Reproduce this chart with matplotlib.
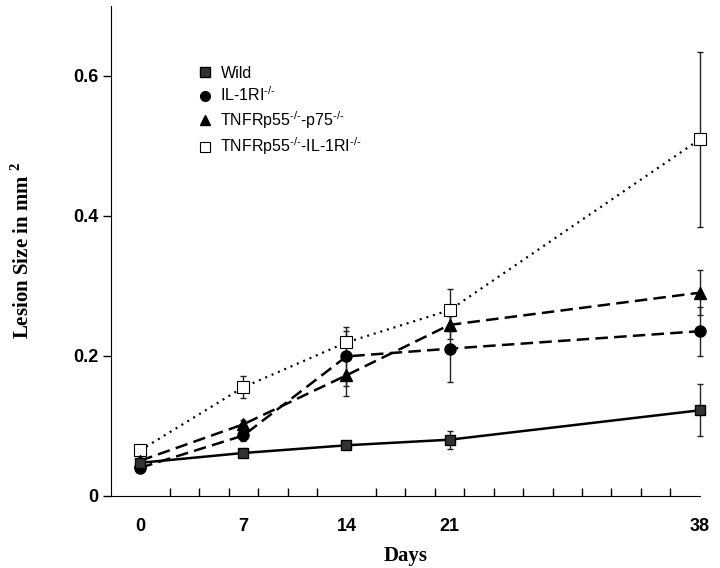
import matplotlib
matplotlib.use('Agg')
import matplotlib.pyplot as plt
from matplotlib.lines import Line2D

plt.rcParams['font.family'] = 'Liberation Sans'
plt.rcParams['mathtext.fontset'] = 'custom'
plt.rcParams['mathtext.rm'] = 'Liberation Sans'
plt.rcParams['mathtext.bf'] = 'Liberation Serif:bold'

days = [0, 7, 14, 21, 38]
tick_days = [0, 7, 14, 21, 38]

wild = [0.047, 0.061, 0.072, 0.080, 0.122]
wild_err = [0.005, 0.006, 0.005, 0.013, 0.037]

il1 = [0.040, 0.086, 0.199, 0.210, 0.235]
il1_err = [0.004, 0.008, 0.042, 0.047, 0.035]

tnf = [0.050, 0.102, 0.172, 0.244, 0.290]
tnf_err = [0.004, 0.006, 0.030, 0.020, 0.032]

dko = [0.065, 0.155, 0.219, 0.265, 0.509]
dko_err = [0.005, 0.016, 0.016, 0.030, 0.125]

labels = ['Wild', r'IL-1RI$^{\text{-/-}}$', r'TNFRp55$^{\text{-/-}}$-p75$^{\text{-/-}}$',
          r'TNFRp55$^{\text{-/-}}$-IL-1RI$^{\text{-/-}}$']

fig = plt.figure(figsize=(7.2, 5.68), dpi=100)
ax = fig.add_axes([0.154, 0.1273, 0.818, 0.8627])

eb = dict(color='#222222', elinewidth=1, capsize=2.5, capthick=1, zorder=2)
for vals, errs in [(dko, dko_err), (tnf, tnf_err), (il1, il1_err), (wild, wild_err)]:
    c = ax.errorbar(days, vals, yerr=errs, fmt='none', **eb)
    for art in c.lines[1] + c.lines[2]:
        art.set_clip_on(False)

ax.plot(days, dko, color='black', lw=1.6, dashes=(0.9, 2.2), zorder=3, clip_on=False)
ax.plot(days, dko, ls='none', marker='s', ms=8, mfc='white', mec='black', mew=0.8,
        zorder=4, clip_on=False)
ax.plot(days, tnf, color='black', lw=1.8, dashes=(5, 2.5), marker='^', ms=8,
        mfc='black', mec='black', zorder=5, clip_on=False)
ax.plot(days, il1, color='black', lw=1.8, dashes=(5, 2.5), marker='o', ms=8,
        mfc='black', mec='black', zorder=5, clip_on=False)
ax.plot(days, wild, color='black', lw=1.8, marker='s', ms=7.5,
        mfc='#333333', mec='black', zorder=6, clip_on=False)

handles = [
    Line2D([], [], ls='none', marker='s', ms=7, mfc='#333333', mec='black'),
    Line2D([], [], ls='none', marker='o', ms=7, mfc='black', mec='black'),
    Line2D([], [], ls='none', marker='^', ms=7, mfc='black', mec='black'),
    Line2D([], [], ls='none', marker='s', ms=7, mfc='white', mec='black', mew=0.8),
]
ax.legend(handles, labels, loc='upper left', bbox_to_anchor=(0.14, 0.89),
          frameon=False, fontsize=11.5, handlelength=0.6, handletextpad=0.7,
          labelspacing=0.3, borderaxespad=0)

ax.set_xlim(-2, 38)
ax.set_ylim(0, 0.7)
ax.spines['top'].set_visible(False)
ax.spines['right'].set_visible(False)

ax.set_xticks(tick_days)
ax.set_xticks(range(0, 39, 2), minor=True)
ax.tick_params(axis='x', which='major', length=0, pad=16, labelsize=13)
ax.tick_params(axis='x', which='minor', direction='in', length=6, width=1)
for t in ax.get_xticklabels():
    t.set_fontweight('bold')

ax.set_yticks([0, 0.2, 0.4, 0.6])
ax.set_yticklabels(['0', '0.2', '0.4', '0.6'], fontweight='bold')
ax.tick_params(axis='y', direction='out', length=6, width=1, pad=3, labelsize=13)

ax.set_xlabel('Days', family='Liberation Serif', fontweight='bold', fontsize=15, labelpad=8)
ax.set_ylabel(r'Lesion Size in mm $^{\mathbf{2}}$', family='Liberation Serif',
              fontweight='bold', fontsize=15, labelpad=28)

fig.savefig('out.png', dpi=100)
